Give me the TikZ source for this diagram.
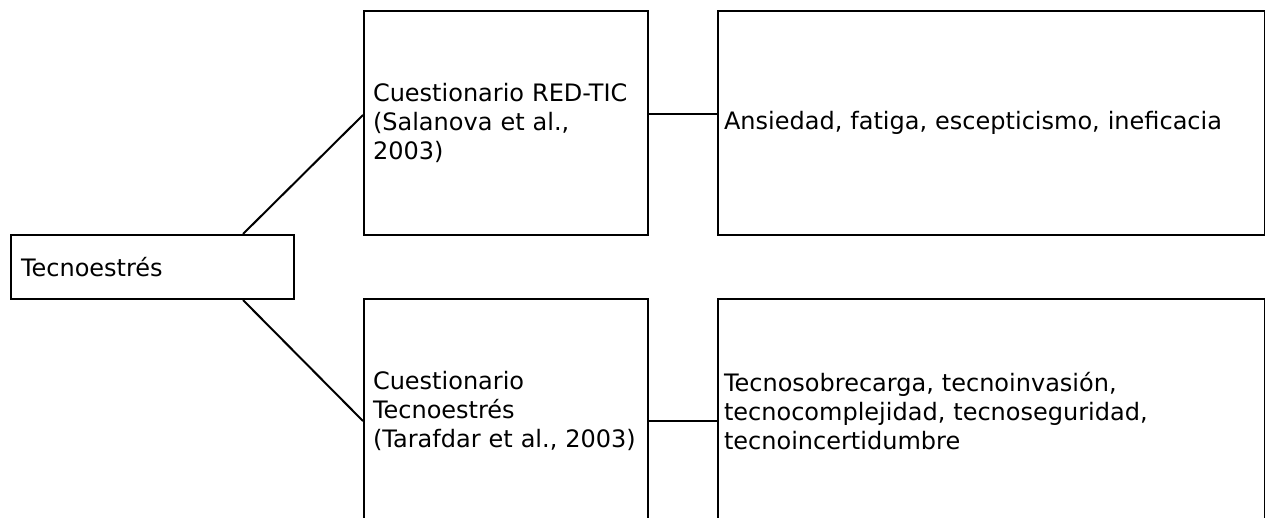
\documentclass[tikz,border=0pt]{standalone}
\usepackage{fontspec}
\setmainfont{DejaVu Sans}
\usetikzlibrary{positioning}
\tikzset{box/.style = {draw, line width=2, anchor=north west, align=left,
                       inner ysep=0, minimum height=224,
                       font=\fontsize{24}{29}\selectfont}}
\tikzset{narrow/.style = {box, inner xsep=9, text width=266}}
\tikzset{wide/.style = {box, inner xsep=6, text width=535}}
\tikzset{link/.style = {line width=2}}

\begin{document}
\begin{tikzpicture}[x=1pt, y=-1pt]
    \useasboundingbox (0, 0) rectangle (1265, 517);
    \node [box, inner xsep=10, text width=263, minimum height=64] (tecno) at (10, 234) {Tecnoestrés};

    \node [narrow] (redtic) at (363, 10) {Cuestionario RED-TIC\\(Salanova et al.,\\2003)};
    \node [wide] (sintomas) at (717, 10) {Ansiedad, fatiga, escepticismo, ineficacia};

    \node [narrow] (tarafdar) at (363, 298) {Cuestionario\\Tecnoestrés\\(Tarafdar et al., 2003)};
    \node [wide] (creadores) at (717, 298) {Tecnosobrecarga, tecnoinvasión,\\tecnocomplejidad, tecnoseguridad,\\tecnoincertidumbre};

    \draw [link] ([xshift=-52]tecno.north east) -- ([yshift=8]redtic.west);
    \draw [link] ([xshift=-52]tecno.south east) -- ([yshift=-10]tarafdar.west);
    \draw [link] ([yshift=9]redtic.east) -- ([yshift=9]sintomas.west);
    \draw [link] ([yshift=-10]tarafdar.east) -- ([yshift=-10]creadores.west);
  \end{tikzpicture}
\end{document}
